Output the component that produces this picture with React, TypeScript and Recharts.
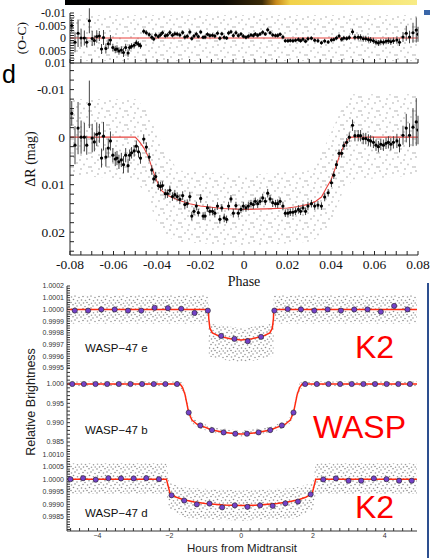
import React from "react";
import {
  ComposedChart,
  XAxis,
  YAxis,
  Line,
  Area,
  Scatter,
  ErrorBar,
  ReferenceLine,
} from "recharts";

const SERIF = '"Liberation Serif", "DejaVu Serif", serif';
const SANS = '"Liberation Sans", Arial, sans-serif';

// ---- phase-folded light curve (top figure) ----
const phase = [
  -0.0792, -0.0777, -0.0763, -0.0749, -0.0734, -0.0723, -0.0711, -0.0698, -0.0688, -0.0677,
  -0.0665, -0.0655, -0.0646, -0.0635, -0.0624, -0.0614, -0.0603, -0.0592, -0.0584, -0.0575,
  -0.0564, -0.0554, -0.0544, -0.0533, -0.0526, -0.0517, -0.0505, -0.0495, -0.0485, -0.0476,
  -0.0461, -0.0449, -0.0436, -0.0424, -0.0415, -0.0406, -0.0394, -0.0384, -0.0375, -0.0362,
  -0.0352, -0.0341, -0.0329, -0.0318, -0.0307, -0.0295, -0.0282, -0.0272, -0.0261, -0.0249,
  -0.024, -0.023, -0.0219, -0.021, -0.0199, -0.0188, -0.0179, -0.0168, -0.0157, -0.0145,
  -0.0134, -0.0122, -0.0111, -0.0102, -0.0091, -0.008, -0.0071, -0.006, -0.0049, -0.0037,
  -0.0026, -0.0014, -0.0003, 0.0009, 0.002, 0.0032, 0.0043, 0.0052, 0.0063, 0.0074,
  0.0086, 0.0098, 0.0109, 0.012, 0.0132, 0.0145, 0.0155, 0.0166, 0.0179, 0.019,
  0.0202, 0.0213, 0.0225, 0.0237, 0.025, 0.026, 0.0271, 0.0283, 0.0294, 0.031,
  0.0325, 0.034, 0.0356, 0.0371, 0.0387, 0.0402, 0.0413, 0.0425, 0.0437, 0.0449,
  0.0459, 0.0472, 0.0484, 0.0499, 0.051, 0.0525, 0.0536, 0.0548, 0.056, 0.0572,
  0.0582, 0.0595, 0.0607, 0.0618, 0.0629, 0.0641, 0.0653, 0.0664, 0.0675, 0.0687,
  0.0703, 0.0715, 0.0731, 0.0746, 0.0761, 0.0777, 0.0792, 0.08,
];

const deltaR = [
  -0.005, 0.0017, -0.0019, 0, 0, 0.0017, -0.0069, 0.0002, 0.001, -0.0006,
  -0.0008, 0.0044, -0.0002, 0.0042, 0.0023, 0.0008, 0.0038, 0.0046, 0.0044, 0.0052,
  0.0048, 0.0058, 0.0038, 0.006, 0.0038, 0.0033, 0.0029, 0.0019, 0.0031, 0.0044,
  0.0004, 0.0021, 0.0042, 0.0069, 0.0088, 0.0083, 0.0102, 0.0104, 0.0102, 0.0119,
  0.0119, 0.0112, 0.0125, 0.0121, 0.0125, 0.0131, 0.0123, 0.0142, 0.014, 0.0125,
  0.0166, 0.0156, 0.0145, 0.0159, 0.0129, 0.0166, 0.0166, 0.0149, 0.0156, 0.0156,
  0.016, 0.0145, 0.0173, 0.0149, 0.017, 0.0173, 0.0145, 0.013, 0.016, 0.0144,
  0.016, 0.0152, 0.0145, 0.0149, 0.0145, 0.014, 0.0142, 0.0135, 0.014, 0.0135,
  0.0128, 0.0135, 0.0118, 0.013, 0.0138, 0.014, 0.014, 0.0135, 0.0145, 0.016,
  0.016, 0.0158, 0.0158, 0.0156, 0.0152, 0.0156, 0.0149, 0.0156, 0.0145, 0.014,
  0.0145, 0.0143, 0.0145, 0.0126, 0.0117, 0.0096, 0.008, 0.0058, 0.0034, 0.0034,
  0.0018, 0.0011, 0, -0.0025, -0.0003, -0.0003, -0.0003, 0.0003, 0.0003, 0.0006,
  0.0008, 0.0011, 0.0017, 0.002, 0.0015, 0.0017, 0.0013, 0.0011, 0.0015, 0.0011,
  0.0008, 0.0017, -0.0004, -0.0019, -0.0004, -0.0021, -0.0032, -0.0015,
];

const ocResid = [
  -0.005, 0.0017, -0.0019, 0, 0, 0.0017, -0.0069, 0.0002, 0.001, -0.0006,
  -0.0008, 0.0044, -0.0002, 0.0042, 0.0023, 0.0008, 0.0038, 0.0046, 0.0044, 0.0052,
  0.0048, 0.0058, 0.0038, 0.006, 0.0038, 0.0033, 0.0029, 0.0019, 0.0025, 0.0031,
  -0.0027, -0.0021, -0.0014, -0.0003, 0.0004, -0.0012, -0.0006, -0.0013, -0.0021, -0.0009,
  -0.0012, -0.0022, -0.0011, -0.0017, -0.0016, -0.0012, -0.0022, -0.0004, -0.0007, -0.0024,
  0.0002, -0.0008, -0.0016, -0.0006, -0.0024, -0.0003, -0.0004, -0.0015, -0.001, -0.0011,
  -0.0008, -0.0019, 0.0001, -0.0017, -0.0003, 0, -0.002, -0.0025, -0.001, -0.0021,
  -0.001, -0.0016, -0.0007, -0.0003, -0.0007, -0.0012, -0.001, -0.0016, -0.0011, -0.0016,
  -0.0023, -0.0016, -0.0033, -0.0021, -0.0012, -0.001, -0.001, -0.0015, -0.0004, 0.0011,
  0.0011, 0.001, 0.0011, 0.0009, 0.0006, 0.0011, 0.0005, 0.0013, 0.0003, 0.0001,
  0.0009, 0.0011, 0.0019, 0.0012, 0.0016, 0.0008, 0.0006, 0, -0.0008, 0.0005,
  0, 0.0002, -0.0002, -0.0025, -0.0003, -0.0003, -0.0003, 0.0003, 0.0003, 0.0006,
  0.0008, 0.0011, 0.0017, 0.002, 0.0015, 0.0017, 0.0013, 0.0011, 0.0015, 0.0011,
  0.0008, 0.0017, -0.0004, -0.0019, -0.0004, -0.0021, -0.0032, -0.0015,
];

const phaseErr = [
  0.0026, 0.004, 0.0055, 0.0035, 0.003, 0.002, 0.005, 0.003, 0.002, 0.0025,
  0.002, 0.002, 0.003, 0.002, 0.002, 0.002, 0.0015, 0.0015, 0.0015, 0.0015,
  0.0015, 0.0018, 0.0015, 0.0015, 0.0012, 0.0012, 0.0012, 0.0012, 0.0012, 0.0012,
  0.001, 0.001, 0.0009, 0.001, 0.0009, 0.001, 0.0009, 0.001, 0.0009, 0.001,
  0.0009, 0.001, 0.0009, 0.001, 0.0009, 0.001, 0.0009, 0.001, 0.0009, 0.001,
  0.0009, 0.0008, 0.0009, 0.0008, 0.0009, 0.0008, 0.0009, 0.0008, 0.0009, 0.0008,
  0.0009, 0.0008, 0.0009, 0.0008, 0.0009, 0.0008, 0.0009, 0.0008, 0.0009, 0.0008,
  0.0009, 0.0008, 0.0009, 0.0008, 0.0009, 0.0008, 0.0009, 0.0008, 0.0009, 0.0008,
  0.0009, 0.0008, 0.0009, 0.0008, 0.0009, 0.0008, 0.0009, 0.0008, 0.0009, 0.0008,
  0.0009, 0.0008, 0.0009, 0.0008, 0.0009, 0.0008, 0.0009, 0.0008, 0.0009, 0.0008,
  0.0008, 0.0009, 0.0008, 0.0009, 0.0008, 0.0009, 0.0008, 0.0009, 0.0008, 0.0009,
  0.0009, 0.0009, 0.001, 0.0012, 0.0012, 0.0012, 0.0012, 0.0012, 0.0012, 0.0012,
  0.0012, 0.0012, 0.0012, 0.0012, 0.0012, 0.0012, 0.0012, 0.0013, 0.0013, 0.0013,
  0.0015, 0.0015, 0.002, 0.003, 0.0025, 0.004, 0.005, 0.003,
];

const modelPhase = [
  -0.08, -0.05, -0.048, -0.046, -0.044, -0.042, -0.04, -0.038, -0.035, -0.03, -0.025, -0.02, -0.01, 0,
  0.01, 0.02, 0.025, 0.03, 0.033, 0.0356, 0.038, 0.04, 0.042, 0.044, 0.046, 0.048, 0.0495, 0.08,
];
const modelDeltaR = [
  0, 0, 0.001, 0.0023, 0.0041, 0.0069, 0.0093, 0.0112, 0.0123, 0.0133, 0.014, 0.0145, 0.015, 0.0152,
  0.0151, 0.0149, 0.0146, 0.0141, 0.0135, 0.0126, 0.0106, 0.009, 0.0065, 0.0038, 0.0017, 0.0003, 0, 0,
];

// spread of the unbinned (grey) points
const cloudPhase = [-0.08, -0.05, -0.045, -0.04, -0.035, -0.03, 0, 0.03, 0.035, 0.04, 0.045, 0.05, 0.08];
const cloudLo = [-0.008, -0.008, -0.006, -0.001, 0.004, 0.007, 0.008, 0.007, 0.004, -0.001, -0.006, -0.009, -0.009];
const cloudHi = [0.008, 0.009, 0.012, 0.018, 0.021, 0.022, 0.023, 0.022, 0.021, 0.018, 0.012, 0.009, 0.008];
const ocCloudPhase = [-0.08, 0.08];
const ocCloudLo = [-0.0092, -0.0092];
const ocCloudHi = [0.0092, 0.0092];

const phaseMajor = [-0.08, -0.06, -0.04, -0.02, 0, 0.02, 0.04, 0.06, 0.08];
const magMajor = [-0.01, 0, 0.01, 0.02];
const ocMajor = [-0.01, -0.005, 0, 0.005, 0.01];

// ---- WASP-47 transits (bottom figure) ----
const eHours = [
  -4.634, -4.263, -3.893, -3.522, -3.151, -2.781, -2.41, -2.039, -1.668, -1.298, -0.927, -0.556, -0.185,
  0.185, 0.556, 0.927, 1.298, 1.668, 2.039, 2.41, 2.781, 3.151, 3.522, 3.893, 4.263, 4.634,
];
const eFlux = [
  0.99999, 0.99999, 1.0, 1.0, 0.99999, 0.99999, 1.000014, 1.000011, 1.000006, 0.99997, 0.99999, 0.999774, 0.999749,
  0.999729, 0.999766, 0.99999, 1.000003, 1.0, 0.99999, 1.0, 0.99999, 1.0, 1.0, 0.99998, 1.00003, 1.0,
];
const eModelHours = [-4.85, -0.91, -0.9, -0.87, -0.8, -0.6, -0.3, 0, 0.3, 0.6, 0.8, 0.87, 0.9, 0.91, 4.9];
const eModelFlux = [1, 1, 0.99992, 0.99984, 0.9998, 0.99977, 0.99975, 0.99974, 0.99975, 0.99977, 0.9998, 0.99984, 0.99992, 1, 1];
const eCloudHours = [-4.85, -0.91, -0.9, -0.5, 0, 0.5, 0.9, 0.91, 4.9];
const eCloudLo = [0.99988, 0.99988, 0.9996, 0.99957, 0.99955, 0.99957, 0.9996, 0.99988, 0.99988];
const eCloudHi = [1.00012, 1.00012, 0.99988, 0.99986, 0.99984, 0.99986, 0.99988, 1.00012, 1.00012];

const bHours = [
  -4.704, -4.38, -4.055, -3.731, -3.406, -3.082, -2.758, -2.433, -2.109, -1.784, -1.46, -1.136, -0.811, -0.487, -0.162,
  0.162, 0.487, 0.811, 1.136, 1.46, 1.784, 2.109, 2.433, 2.758, 3.082, 3.406, 3.731, 4.055, 4.38, 4.704,
];
const bFlux = [
  1, 1, 1, 1, 1, 1, 1, 1, 1, 1, 0.99262, 0.98928, 0.98808, 0.98748, 0.98714,
  0.98714, 0.98748, 0.98808, 0.98928, 0.99262, 1, 1, 1, 1, 1, 1, 1, 1, 1, 1,
];
const bModelHours = [
  -4.85, -1.7, -1.63, -1.56, -1.46, -1.37, -1.23, -1.14, -0.81, -0.49, -0.16, 0,
  0.16, 0.49, 0.81, 1.14, 1.23, 1.37, 1.46, 1.56, 1.63, 1.7, 4.9,
];
const bModelFlux = [
  1, 1, 0.9991, 0.9972, 0.9926, 0.9907, 0.9896, 0.9893, 0.9881, 0.9875, 0.98715, 0.9871,
  0.98715, 0.9875, 0.9881, 0.9893, 0.9896, 0.9907, 0.9926, 0.9972, 0.9991, 1, 1,
];
const bCloudHours = [-4.85, -1.72, -1.63, -1.56, -1.46, -1.37, -1.23, -0.81, 0, 0.81, 1.23, 1.37, 1.46, 1.56, 1.63, 1.72, 4.9];
const bCloudLo = [0.9993, 0.9993, 0.9982, 0.9963, 0.9918, 0.9899, 0.9888, 0.9874, 0.9864, 0.9874, 0.9888, 0.9899, 0.9918, 0.9963, 0.9982, 0.9993, 0.9993];
const bCloudHi = [1.0007, 1.0007, 1.0003, 0.9982, 0.9936, 0.9915, 0.9904, 0.9889, 0.9879, 0.9889, 0.9904, 0.9915, 0.9936, 0.9982, 1.0003, 1.0007, 1.0007];

const dHours = [
  -4.754, -4.402, -4.05, -3.697, -3.345, -2.993, -2.641, -2.289, -1.937, -1.585, -1.233, -0.88, -0.528, -0.176,
  0.176, 0.528, 0.88, 1.233, 1.585, 1.937, 2.289, 2.641, 2.993, 3.345, 3.697, 4.05, 4.402, 4.754,
];
const dFlux = [
  1.0, 1.00004, 0.99998, 1.00004, 1.00003, 1.00003, 1.00004, 1.0, 0.99936, 0.99915, 0.999, 0.99903, 0.99888, 0.99896,
  0.9989, 0.99896, 0.99894, 0.99904, 0.99911, 0.9994, 0.99999, 1.00003, 0.99994, 0.99994, 1.00003, 1.0, 0.99994, 0.99994,
];
const dModelHours = [-4.85, -2.08, -1.98, -1.8, -1.6, -1.3, -1.0, -0.5, 0, 0.5, 1.0, 1.3, 1.6, 1.8, 1.98, 2.08, 4.9];
const dModelFlux = [1, 1, 0.99943, 0.99928, 0.99918, 0.99909, 0.99903, 0.99897, 0.99895, 0.99897, 0.99903, 0.99909, 0.99918, 0.99928, 0.99943, 1, 1];
const dCloudHours = [-4.85, -2.08, -2.0, -1.5, 0, 1.5, 2.0, 2.08, 4.9];
const dCloudLo = [0.99942, 0.99942, 0.9988, 0.99845, 0.99835, 0.99845, 0.9988, 0.99942, 0.99942];
const dCloudHi = [1.00062, 1.00062, 0.99985, 0.99965, 0.99955, 0.99965, 0.99985, 1.00062, 1.00062];

const hourMajor = [-4, -2, 0, 2, 4];
const eMajor = [0.9995, 0.9996, 0.9997, 0.9998, 0.9999, 1.0, 1.0001, 1.0002];
const bMajor = [0.985, 0.99, 0.995, 1.0];
const dMajor = [0.9985, 0.999, 0.9995, 1.0, 1.0005, 1.001];

// axis tick positions (minor ticks fill the gaps between labelled ones)
function steps(a: number, b: number, step: number) {
  const out: number[] = [];
  const n = Math.round((b - a) / step);
  for (let i = 0; i <= n; i++) out.push(+(a + i * step).toFixed(7));
  return out;
}
const isMajor = (v: number, majors: number[]) => majors.some((m) => Math.abs(m - v) < 1e-7);

const phaseTicks = steps(-0.08, 0.08, 0.005);
const magTicks = steps(-0.014, 0.024, 0.002);
const ocTicks = steps(-0.01, 0.01, 0.001);
const hourTicks = steps(-4.75, 4.75, 0.25);
const eTicks = steps(0.9995, 1.0002, 0.00002);
const bTicks = steps(0.983, 1.004, 0.001);
const dTicks = steps(0.998, 1.0011, 0.0001);

const ocPts = phase.map((x, i) => ({ x, y: ocResid[i], e: phaseErr[i] }));
const magPts = phase.map((x, i) => ({ x, y: deltaR[i], e: phaseErr[i] }));
const magModel = modelPhase.map((x, i) => ({ x, y: modelDeltaR[i] }));
const magCloud = cloudPhase.map((x, i) => ({ x, band: [cloudLo[i], cloudHi[i]] }));
const ocCloud = ocCloudPhase.map((x, i) => ({ x, band: [ocCloudLo[i], ocCloudHi[i]] }));

const zip = (xs: number[], ys: number[]) => xs.map((x, i) => ({ x, y: ys[i] }));
const band = (xs: number[], lo: number[], hi: number[]) => xs.map((x, i) => ({ x, band: [lo[i], hi[i]] }));

const blank = () => "";
const serifTick = { fill: "#111", fontSize: 13.5, fontFamily: SERIF };
const ocTick = { fill: "#111", fontSize: 12, fontFamily: SERIF };
const sansTick = { fill: "#333", fontSize: 7, fontFamily: SANS };

const blackDot = (p: any) => <circle cx={p.cx} cy={p.cy} r={1.6} fill="#000" />;
const purpleDot = (p: any) => <circle cx={p.cx} cy={p.cy} r={2.6} fill="#7442c8" stroke="#222" strokeWidth={0.6} />;

// dot textures used to render the clouds of unbinned measurements
const lightSpots = [[2, 3], [9, 1], [15, 5], [5, 9], [12, 10.5], [17, 13], [8, 6], [1, 13]];
const denseSpots = [
  [1, 1], [5, 2.5], [9, 0.8], [13, 2], [3, 4.5], [7.5, 5], [11, 4], [15, 5.5],
  [1.5, 8], [5.5, 8.5], [9.5, 7.5], [13.5, 8.8], [3.5, 11], [11.5, 11.2], [7, 10.5], [15.2, 11],
];

function LightDots({ id }: { id: string }) {
  return (
    <defs>
      <pattern id={id} width="18" height="14" patternUnits="userSpaceOnUse">
        {lightSpots.map(([cx, cy], i) => (
          <circle key={i} cx={cx} cy={cy} r="0.9" fill="#c6c6c6" />
        ))}
      </pattern>
    </defs>
  );
}

function DenseDots({ id }: { id: string }) {
  return (
    <defs>
      <pattern id={id} width="16" height="12" patternUnits="userSpaceOnUse">
        {denseSpots.map(([cx, cy], i) => (
          <circle key={i} cx={cx} cy={cy} r="0.8" fill={i % 2 ? "#9a9a9a" : "#8a8a8a"} />
        ))}
      </pattern>
    </defs>
  );
}

function OCChart() {
  const dom: [number, number] = [-0.01, 0.01];
  return (
    <ComposedChart width={430} height={75} margin={{ top: 13, right: 12, bottom: 0, left: 0 }}>
      <LightDots id="ocDots" />
      <XAxis xAxisId="b" dataKey="x" type="number" domain={[-0.08, 0.08]} allowDataOverflow ticks={phaseTicks}
        interval={0} tickSize={-4} tickFormatter={blank} height={12} stroke="#222" />
      <XAxis xAxisId="t" orientation="top" type="number" domain={[-0.08, 0.08]} allowDataOverflow ticks={phaseTicks}
        interval={0} tickSize={-4} tickFormatter={blank} height={0} stroke="#222" />
      <YAxis yAxisId="l" dataKey="y" type="number" domain={dom} reversed allowDataOverflow ticks={ocTicks}
        interval={0} tickSize={-4} tickMargin={8} width={70} stroke="#222" tick={ocTick}
        tickFormatter={(v: number) => (isMajor(v, ocMajor) ? String(+v.toFixed(3)) : "")}
        label={{ value: "(O-C)", angle: -90, position: "insideLeft", offset: 21,
          style: { textAnchor: "middle", fontFamily: SERIF, fontSize: 13.5, fill: "#111" } }} />
      <YAxis yAxisId="r" orientation="right" type="number" domain={dom} reversed allowDataOverflow ticks={ocTicks}
        interval={0} tickSize={-4} tickFormatter={blank} width={0} stroke="#222" />
      <Area xAxisId="b" yAxisId="l" data={ocCloud} dataKey="band" type="linear" stroke="none"
        fill="url(#ocDots)" fillOpacity={1} dot={false} activeDot={false} isAnimationActive={false} />
      <ReferenceLine xAxisId="b" yAxisId="l" y={0} stroke="#e8413c" strokeWidth={1} />
      <Scatter xAxisId="b" yAxisId="l" data={ocPts} shape={blackDot} isAnimationActive={false}>
        <ErrorBar dataKey="e" direction="y" width={0} stroke="#444" strokeWidth={1} />
      </Scatter>
    </ComposedChart>
  );
}

function MagChart() {
  const dom: [number, number] = [-0.0156, 0.0248];
  return (
    <ComposedChart width={430} height={290} margin={{ top: 63, right: 12, bottom: 0, left: 0 }}>
      <LightDots id="magDots" />
      <XAxis xAxisId="b" dataKey="x" type="number" domain={[-0.08, 0.08]} allowDataOverflow ticks={phaseTicks}
        interval={0} tickSize={-4} tickMargin={8} height={35} stroke="#222" tick={serifTick}
        tickFormatter={(v: number) => (isMajor(v, phaseMajor) ? (v === 0 ? "0" : v.toFixed(2)) : "")}
        label={{ value: "Phase", position: "insideBottom", offset: 4,
          style: { fontFamily: SERIF, fontSize: 14, fill: "#111" } }} />
      <XAxis xAxisId="t" orientation="top" type="number" domain={[-0.08, 0.08]} allowDataOverflow ticks={phaseTicks}
        interval={0} tickSize={-4} tickFormatter={blank} height={0} stroke="#222" />
      <YAxis yAxisId="l" dataKey="y" type="number" domain={dom} reversed allowDataOverflow ticks={magTicks}
        interval={0} tickSize={-4} tickMargin={9} width={70} stroke="#222" tick={serifTick}
        tickFormatter={(v: number) => (isMajor(v, magMajor) ? (Math.abs(v) < 1e-9 ? "0" : v.toFixed(2)) : "")}
        label={{ value: "\u0394R (mag)", angle: -90, position: "insideLeft", offset: 30,
          style: { textAnchor: "middle", fontFamily: SERIF, fontSize: 14, fill: "#111" } }} />
      <YAxis yAxisId="r" orientation="right" type="number" domain={dom} reversed allowDataOverflow ticks={magTicks}
        interval={0} tickSize={-4} tickFormatter={blank} width={0} stroke="#222" />
      <Area xAxisId="b" yAxisId="l" data={magCloud} dataKey="band" type="linear" stroke="none"
        fill="url(#magDots)" fillOpacity={1} dot={false} activeDot={false} isAnimationActive={false} />
      <Line xAxisId="b" yAxisId="l" data={magModel} dataKey="y" type="linear" stroke="#e8413c" strokeWidth={1.1}
        dot={false} activeDot={false} isAnimationActive={false} />
      <Scatter xAxisId="b" yAxisId="l" data={magPts} shape={blackDot} isAnimationActive={false}>
        <ErrorBar dataKey="e" direction="y" width={0} stroke="#444" strokeWidth={1} />
      </Scatter>
    </ComposedChart>
  );
}

interface PanelProps {
  id: string;
  height: number;
  marginTop: number;
  marginBottom: number;
  xHeight: number;
  yDomain: [number, number];
  yTicks: number[];
  yMajor: number[];
  digits: number;
  pts: { x: number; y: number }[];
  model: { x: number; y: number }[];
  cloud: { x: number; band: number[] }[];
  showX?: boolean;
}

function TransitPanel({
  id, height, marginTop, marginBottom, xHeight, yDomain, yTicks, yMajor, digits, pts, model, cloud, showX,
}: PanelProps) {
  const xDom: [number, number] = [-4.85, 4.9];
  return (
    <ComposedChart width={430} height={height} margin={{ top: marginTop, right: 13, bottom: marginBottom, left: 0 }}>
      <DenseDots id={id} />
      <XAxis xAxisId="b" dataKey="x" type="number" domain={xDom} allowDataOverflow ticks={hourTicks}
        interval={0} tickSize={-3} tickMargin={5} height={xHeight} stroke="#333" tick={sansTick}
        tickFormatter={(v: number) =>
          showX && isMajor(v, hourMajor) ? (v < 0 ? "\u2212" + Math.abs(v) : String(v)) : ""}
        label={showX ? { value: "Hours from Midtransit", position: "insideBottom", offset: 6,
          style: { fontFamily: SANS, fontSize: 11.5, fill: "#222" } } : undefined} />
      <XAxis xAxisId="t" orientation="top" type="number" domain={xDom} allowDataOverflow ticks={hourTicks}
        interval={0} tickSize={-3} tickFormatter={blank} height={0} stroke="#333" />
      <YAxis yAxisId="l" dataKey="y" type="number" domain={yDomain} allowDataOverflow ticks={yTicks}
        interval={0} tickSize={-3} tickMargin={6} width={67} stroke="#333" tick={sansTick}
        tickFormatter={(v: number) => (isMajor(v, yMajor) ? v.toFixed(digits) : "")} />
      <YAxis yAxisId="r" orientation="right" type="number" domain={yDomain} allowDataOverflow ticks={yTicks}
        interval={0} tickSize={-3} tickFormatter={blank} width={0} stroke="#333" />
      <Area xAxisId="b" yAxisId="l" data={cloud} dataKey="band" type="linear" stroke="none"
        fill={`url(#${id})`} fillOpacity={1} dot={false} activeDot={false} isAnimationActive={false} />
      <Line xAxisId="b" yAxisId="l" data={model} dataKey="y" type="linear" stroke="#ff2a10" strokeWidth={1.5}
        dot={false} activeDot={false} isAnimationActive={false} />
      <Scatter xAxisId="b" yAxisId="l" data={pts} shape={purpleDot} isAnimationActive={false} />
    </ComposedChart>
  );
}

export default function App() {
  const abs = (top: number): React.CSSProperties => ({ position: "absolute", left: 0, top });
  return (
    <div style={{ position: "absolute", left: 0, top: 0, width: 430, height: 558, background: "#fff", overflow: "hidden" }}>
      <div style={{
        position: "absolute", left: 65, top: 0, width: 352, height: 5,
        background: "linear-gradient(to right, #000 0%, #0d0a05 45%, #3a2a08 56%, #c88a1c 60%, #f2d24a 64%, #f8ec86 100%)",
      }} />
      <div style={{ position: "absolute", left: 424, top: 10, width: 6, height: 5, background: "#3a66a8" }} />
      <div style={{ position: "absolute", left: 427, top: 283, width: 2, height: 275, background: "#2d4f8f" }} />

      <div style={abs(0)}><OCChart /></div>
      <div style={abs(0)}><MagChart /></div>

      <div style={abs(280)}>
        <TransitPanel id="eDots" height={94} marginTop={6} marginBottom={6} xHeight={0} yDomain={[0.9995, 1.0002]}
          yTicks={eTicks} yMajor={eMajor} digits={4} pts={zip(eHours, eFlux)}
          model={zip(eModelHours, eModelFlux)} cloud={band(eCloudHours, eCloudLo, eCloudHi)} />
      </div>
      <div style={abs(368)}>
        <TransitPanel id="bDots" height={82} marginTop={0} marginBottom={0} xHeight={0} yDomain={[0.98293, 1.00414]}
          yTicks={bTicks} yMajor={bMajor} digits={3} pts={zip(bHours, bFlux)}
          model={zip(bModelHours, bModelFlux)} cloud={band(bCloudHours, bCloudLo, bCloudHi)} />
      </div>
      <div style={abs(444)}>
        <TransitPanel id="dDots" height={114} marginTop={6} marginBottom={0} xHeight={27} yDomain={[0.99794, 1.00116]}
          yTicks={dTicks} yMajor={dMajor} digits={4} pts={zip(dHours, dFlux)}
          model={zip(dModelHours, dModelFlux)} cloud={band(dCloudHours, dCloudLo, dCloudHi)} showX />
      </div>

      <svg width={430} height={558} style={{ position: "absolute", left: 0, top: 0, pointerEvents: "none" }}>
        <text x={2} y={83} fontFamily={SANS} fontSize={25} fill="#000">d</text>
        <text x={35} y={402} transform="rotate(-90 35 402)" textAnchor="middle" fontFamily={SANS} fontSize={12.5} fill="#222">
          Relative Brightness
        </text>
        <text x={85} y={352} fontFamily={SANS} fontSize={11.5} fill="#111">WASP−47 e</text>
        <text x={355} y={358} fontFamily={SANS} fontSize={32} fill="#ff0000">K2</text>
        <text x={85} y={434} fontFamily={SANS} fontSize={11.5} fill="#111">WASP−47 b</text>
        <text x={313} y={438} fontFamily={SANS} fontSize={32} fill="#ff0000">WASP</text>
        <text x={85} y={517} fontFamily={SANS} fontSize={11.5} fill="#111">WASP−47 d</text>
        <text x={355} y={518} fontFamily={SANS} fontSize={32} fill="#ff0000">K2</text>
      </svg>
    </div>
  );
}
